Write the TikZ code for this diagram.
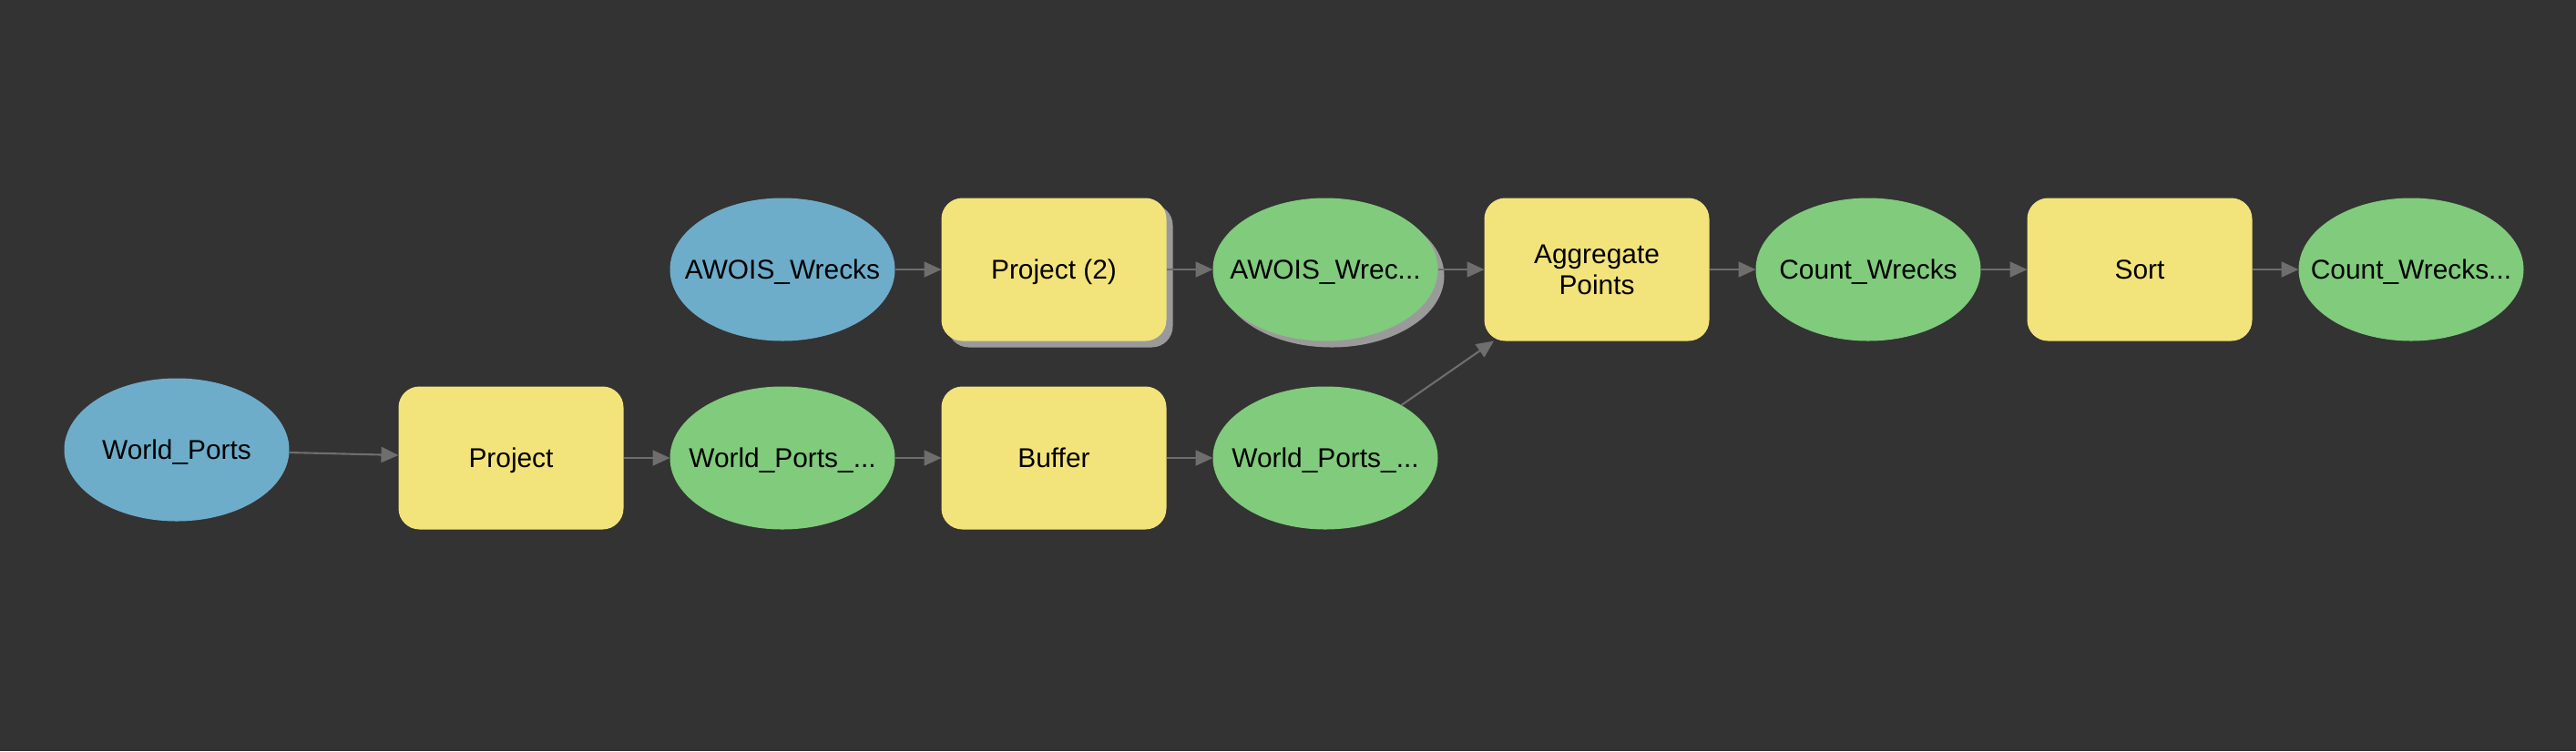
\documentclass[tikz,border=0pt]{standalone}
\usepackage{fontspec}
\setmainfont{Liberation Sans}
\usetikzlibrary{arrows.meta,positioning,shapes.geometric,shadows}

\definecolor{bgdark}{HTML}{333333}
\definecolor{inblue}{HTML}{6EADCA}
\definecolor{outgreen}{HTML}{80CB7C}
\definecolor{toolyellow}{HTML}{F3E37B}
\definecolor{shadowgray}{HTML}{9A9A9A}
\definecolor{arrowgray}{HTML}{6E6E6E}

\newcommand{\lbl}[1]{\makebox[0pt]{#1}}

\begin{document}
\begin{tikzpicture}[node distance=0.51cm,
  font=\fontsize{8.5}{9.8}\selectfont,
  every node/.style={outer sep=0pt, text depth=0pt},
  inputdata/.style={ellipse, fill=inblue, minimum width=2.47cm, minimum height=1.57cm, inner sep=0pt},
  outdata/.style={ellipse, fill=outgreen, minimum width=2.47cm, minimum height=1.57cm, inner sep=0pt},
  tool/.style={rectangle, rounded corners=0.23cm, fill=toolyellow, minimum width=2.47cm, minimum height=1.57cm, inner sep=0pt, align=center},
  shadowed/.style={drop shadow={shadow xshift=0.07cm, shadow yshift=-0.07cm, fill=shadowgray, opacity=1}},
  flow/.style={draw=arrowgray, line width=0.6pt, -{Triangle[length=0.19cm,width=0.17cm]}}]
  % 背景
  \fill[bgdark] (0,0) rectangle (28.28,-8.25);

  % ノード（上段）
  \node (AW) [inputdata] at (8.59,-2.96) {\lbl{AWOIS\_Wrecks}};
  \node (PR2) [tool, shadowed, right=of AW] {Project (2)};
  \node (AWP) [outdata, shadowed, right=of PR2] {\lbl{AWOIS\_Wrec...}};
  \node (AGG) [tool, right=of AWP] {Aggregate\\Points};
  \node (CW) [outdata, right=of AGG] {\lbl{Count\_Wrecks}};
  \node (SRT) [tool, right=of CW] {Sort};
  \node (CWS) [outdata, right=of SRT] {\lbl{Count\_Wrecks...}};

  % ノード（下段）
  \node (WPP) [outdata, below=0.5cm of AW] {\lbl{World\_Ports\_...}};
  \node (PR) [tool, left=of WPP] {Project};
  \node (WP) [inputdata, left=1.2cm of PR, yshift=0.09cm] {\lbl{World\_Ports}};
  \node (BUF) [tool, right=of WPP] {Buffer};
  \node (WPB) [outdata, right=of BUF] {\lbl{World\_Ports\_...}};

  % 矢印
  \draw[flow] (AW) -- (PR2);
  \draw[flow] (PR2) -- (AWP);
  \draw[flow] (AWP) -- (AGG);
  \draw[flow] (AGG) -- (CW);
  \draw[flow] (CW) -- (SRT);
  \draw[flow] (SRT) -- (CWS);
  \draw[flow] (WP) -- (PR);
  \draw[flow] (PR) -- (WPP);
  \draw[flow] (WPP) -- (BUF);
  \draw[flow] (BUF) -- (WPB);
  \draw[flow] (WPB) -- (AGG);
\end{tikzpicture}
\end{document}
